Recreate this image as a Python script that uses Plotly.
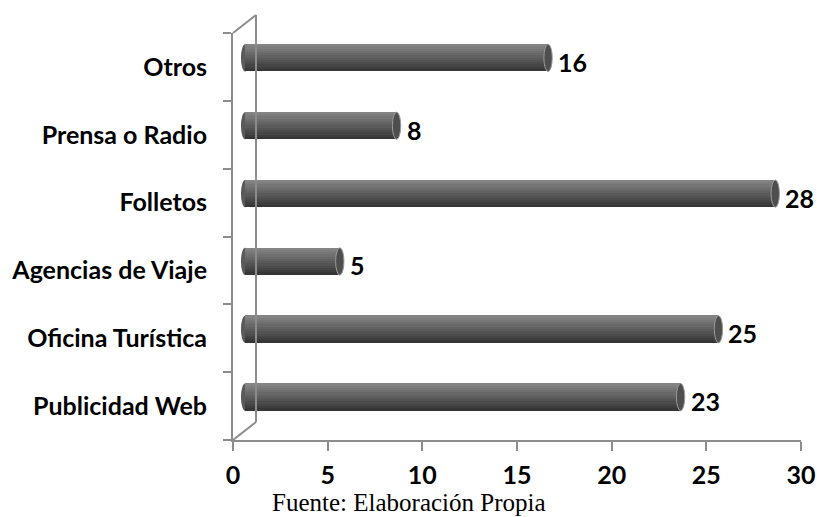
import plotly.graph_objects as go

categories = ["Publicidad Web", "Oficina Turística", "Agencias de Viaje",
              "Folletos", "Prensa o Radio", "Otros"]
values = [23, 25, 5, 28, 8, 16]
x_ticks = [0, 5, 10, 15, 20, 25, 30]
source_note = "Fuente: Elaboración Propia"

LABEL_FONT = dict(family="Lato", size=25, color="#000000", weight="bold")
AXIS_COLOR = "#8c8c8c"

fig = go.Figure()

# invisible trace to set up the front category axis
fig.add_trace(go.Scatter(x=values, y=categories, mode="markers",
                         marker=dict(opacity=0), hoverinfo="skip",
                         showlegend=False, xaxis="x", yaxis="y"))

# cylinder-like bars made of stacked strips (vertical gradient)
W = 0.40
N = 12
def lerp(a, b, t):
    return int(round(a + (b - a) * t))
top_c = (0x84, 0x84, 0x84)
mid_c = (0x5e, 0x5e, 0x5e)
bot_c = (0x36, 0x36, 0x36)
for i in range(N):
    t = i / (N - 1)
    if t < 0.5:
        tt = t / 0.5
        c = tuple(lerp(top_c[k], mid_c[k], tt) for k in range(3))
    else:
        tt = (t - 0.5) / 0.5
        c = tuple(lerp(mid_c[k], bot_c[k], tt) for k in range(3))
    color = "rgb(%d,%d,%d)" % c
    off = W / 2 - (i + 1) * W / N
    fig.add_trace(go.Bar(x=values, y=categories, orientation="h",
                         width=W / N + 0.004, offset=off,
                         marker=dict(color=color, line=dict(width=0)),
                         hoverinfo="skip", showlegend=False,
                         xaxis="x2", yaxis="y2"))

shapes = []
cap = 0.22
for cat, v in zip(categories, values):
    yi = categories.index(cat)
    shapes.append(dict(type="circle", xref="x2", yref="y2",
                       x0=-cap, x1=cap, y0=yi - W / 2, y1=yi + W / 2,
                       fillcolor="#5a5a5a", line=dict(width=0), layer="below"))
    shapes.append(dict(type="circle", xref="x2", yref="y2",
                       x0=v - cap, x1=v + cap, y0=yi - W / 2, y1=yi + W / 2,
                       fillcolor="#4e4e4e", line=dict(color="#9a9a9a", width=1),
                       layer="above"))

# 3D wall lines
dx = 23 / 568
dy = 18 / 407
wall = dict(color=AXIS_COLOR, width=2)
shapes += [
    dict(type="line", xref="x domain", yref="y domain", x0=0, y0=1, x1=dx, y1=1 + dy, line=wall),
    dict(type="line", xref="x domain", yref="y domain", x0=dx, y0=1 + dy, x1=dx, y1=dy, line=wall),
    dict(type="line", xref="x domain", yref="y domain", x0=0, y0=0, x1=dx, y1=dy, line=wall),
]

annotations = []
for cat, v in zip(categories, values):
    annotations.append(dict(x=v, y=cat, xref="x2", yref="y2", text=str(v),
                            showarrow=False, xanchor="left", yanchor="middle",
                            xshift=8, yshift=-4, font=LABEL_FONT))
# source note centred on the page
annotations.append(dict(x=(817 / 2 - 233) / 568, y=0, xref="paper", yref="paper",
                        text=source_note, showarrow=False,
                        xanchor="center", yanchor="middle", yshift=-62,
                        font=dict(family="Liberation Serif", size=25, color="#000000")))

d = 9 / (407 / 6)
fig.update_layout(
    width=817, height=517, autosize=False,
    margin=dict(l=233, r=16, t=33, b=77, autoexpand=False),
    paper_bgcolor="white", plot_bgcolor="white",
    barmode="overlay", bargap=0,
    showlegend=False,
    xaxis=dict(range=[0, 30], tickvals=x_ticks, ticktext=[str(t) for t in x_ticks],
               showgrid=False, zeroline=False, showline=True, automargin=False,
               linecolor=AXIS_COLOR, linewidth=2,
               ticks="outside", ticklen=9, tickcolor=AXIS_COLOR, tickwidth=2,
               tickfont=LABEL_FONT, ticklabelstandoff=3, fixedrange=True),
    yaxis=dict(type="category", categoryorder="array", categoryarray=categories,
               range=[-0.5, 5.5], showgrid=False, zeroline=False, showline=True,
               automargin=False,
               linecolor=AXIS_COLOR, linewidth=2,
               ticks="outside", ticklen=8, tickcolor=AXIS_COLOR, tickwidth=2,
               tickson="boundaries", tickfont=LABEL_FONT, ticklabelstandoff=19),
    xaxis2=dict(overlaying="x", range=[-0.64, 29.36], visible=False, anchor="y",
                automargin=False),
    yaxis2=dict(overlaying="y", type="category", categoryorder="array",
                categoryarray=categories, range=[-0.5 - d, 5.5 - d],
                visible=False, anchor="x", automargin=False),
    shapes=shapes,
    annotations=annotations,
)

fig.write_html("out.html", config={"responsive": False})
